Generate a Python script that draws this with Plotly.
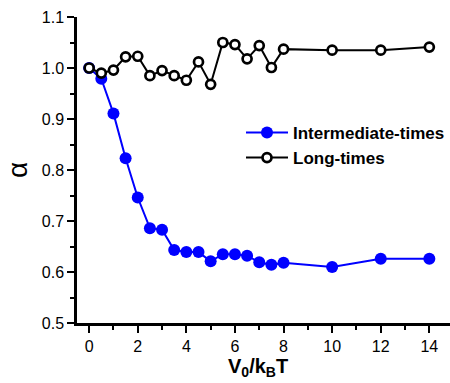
import plotly.graph_objects as go

# Data
v0 = [0, 0.5, 1, 1.5, 2, 2.5, 3, 3.5, 4, 4.5, 5, 5.5, 6, 6.5, 7, 7.5, 8, 10, 12, 14]
alpha_intermediate = [1.000, 0.979, 0.911, 0.823, 0.746, 0.686, 0.683, 0.643, 0.639, 0.639,
                      0.621, 0.635, 0.635, 0.632, 0.619, 0.614, 0.618, 0.610, 0.626, 0.626]
alpha_long = [1.000, 0.990, 0.996, 1.022, 1.023, 0.985, 0.995, 0.985, 0.976, 1.012,
              0.968, 1.050, 1.046, 1.018, 1.044, 1.001, 1.037, 1.035, 1.035, 1.041]
series_names = ["Intermediate-times", "Long-times"]
x_ticks = [0, 2, 4, 6, 8, 10, 12, 14]
y_ticks = [0.5, 0.6, 0.7, 0.8, 0.9, 1.0, 1.1]

FONT = "Liberation Sans, Arial, sans-serif"
XR = [-0.5, 14.85]

fig = go.Figure()
fig.add_trace(go.Scatter(
    x=v0, y=alpha_intermediate, name=series_names[0], mode="lines+markers",
    line=dict(color="#0000FF", width=2),
    marker=dict(symbol="circle", size=12, color="#0000FF", line=dict(width=0)),
))
fig.add_trace(go.Scatter(
    x=v0, y=alpha_long, name=series_names[1], mode="lines+markers",
    line=dict(color="black", width=2),
    marker=dict(symbol="circle", size=9, color="white", line=dict(color="black", width=2.7)),
))

fig.update_layout(
    width=450, height=383,
    margin=dict(l=77, r=0, t=17, b=60),
    paper_bgcolor="white", plot_bgcolor="white",
    font=dict(family=FONT, color="black", size=16),
    showlegend=True,
    legend=dict(
        x=0.44, y=0.68, xanchor="left", yanchor="top",
        bgcolor="rgba(0,0,0,0)", borderwidth=0,
        font=dict(family=FONT, size=17, color="black", weight="bold"),
        itemwidth=42, tracegroupgap=0,
    ),
    xaxis=dict(
        range=XR, tickmode="array", tickvals=x_ticks, ticktext=[str(t) for t in x_ticks],
        showgrid=False, zeroline=False,
        showline=True, linecolor="black", linewidth=2.5,
        ticks="outside", ticklen=7, tickwidth=2, tickcolor="black",
        minor=dict(dtick=1, tick0=0, ticks="outside", ticklen=4, tickwidth=2, tickcolor="black"),
        tickfont=dict(family=FONT, size=16),
    ),
    xaxis2=dict(
        range=XR, overlaying="x", side="top", anchor="y",
        showgrid=False, zeroline=False, showticklabels=False,
        showline=True, linecolor="black", linewidth=2.5,
        ticks="inside", ticklen=2, tickwidth=1, tickcolor="black",
        tickmode="linear", tick0=0, dtick=1,
    ),
    yaxis=dict(
        range=[0.5, 1.1], tickmode="array", tickvals=y_ticks,
        ticktext=[f"{t:.1f}" for t in y_ticks],
        showgrid=False, zeroline=False,
        showline=True, linecolor="black", linewidth=2.5,
        ticks="outside", ticklen=7, tickwidth=2, tickcolor="black",
        minor=dict(dtick=0.05, tick0=0.5, ticks="outside", ticklen=4, tickwidth=2, tickcolor="black"),
        tickfont=dict(family=FONT, size=16),
    ),
    annotations=[
        dict(text="<b>V<sub>0</sub>/k<sub>B</sub>T</b>", xref="paper", yref="paper",
             x=0.485, y=-0.098, xanchor="center", yanchor="top", showarrow=False,
             font=dict(family=FONT, size=20, color="black")),
        dict(text="α", xref="paper", yref="paper", x=-0.161, y=0.5,
             xanchor="center", yanchor="middle", showarrow=False, textangle=-90,
             font=dict(family=FONT, size=28, color="black")),
    ],
)

fig.write_html("out.html")
